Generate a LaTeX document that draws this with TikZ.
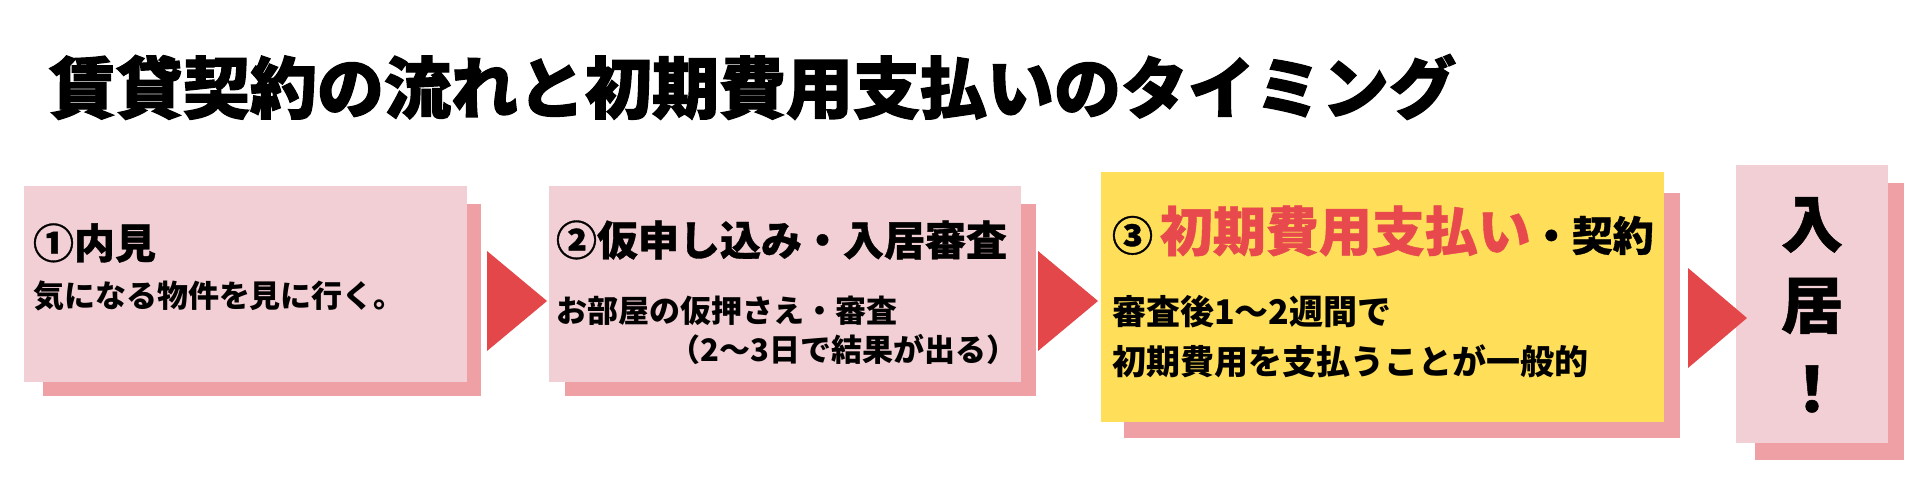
\documentclass[tikz,border=0pt]{standalone}
\usepackage{fontspec}
\newfontfamily\jp{Noto Sans CJK JP}
\newfontfamily\jphead[FakeBold=0.8]{Noto Sans CJK JP}
\newfontfamily\jptitle[FakeBold=1.8]{Noto Sans CJK JP}
\definecolor{boxpink}{RGB}{242,206,213}
\definecolor{shadowpink}{RGB}{239,160,164}
\definecolor{arrowred}{RGB}{227,71,74}
\definecolor{boxyellow}{RGB}{255,222,89}
\definecolor{textred}{RGB}{231,73,77}
\begin{document}
\begin{tikzpicture}[x=1pt,y=-1pt,
  panel/.style={draw=none, inner sep=0pt, outer sep=0pt, anchor=north west},
  txt/.style={inner sep=0pt, outer sep=0pt, anchor=west, font=\jp\bfseries},
  head/.style={txt, font=\jphead\bfseries\fontsize{41}{48}\selectfont},
  body/.style={txt, font=\jp\bfseries\fontsize{31}{36}\selectfont},
  bigbody/.style={txt, font=\jp\bfseries\fontsize{34}{40}\selectfont},
  big/.style={inner sep=0pt, outer sep=0pt, anchor=center, font=\jphead\bfseries\fontsize{62}{68}\selectfont},
  tri/.style={fill=arrowred}]
\fill[white] (0,0) rectangle (1920,492);
\useasboundingbox (0,0) rectangle (1920,492);

% title
\node[txt, font=\jptitle\bfseries\fontsize{67}{72}\selectfont] (title) at (49,87) {賃貸契約の流れと初期費用支払いのタイミング};

% box 1
\node[panel, fill=shadowpink, minimum width=438pt, minimum height=192pt] (s1) at (43,204) {};
\node[panel, fill=boxpink, minimum width=443pt, minimum height=196pt] (b1) at (24,186) {};
\node[head] (h1) at (33,243) {①内見};
\node[body] (t1) at (33,296) {気になる物件を見に行く。};

% arrow 1
\coordinate (a1l) at (487,251);
\coordinate (a1t) at (547,301);
\coordinate (a1b) at (487,351);
\fill[tri] (a1l) -- (a1t) -- (a1b) -- cycle;

% box 2
\node[panel, fill=shadowpink, minimum width=471pt, minimum height=192pt] (s2) at (565,204) {};
\node[panel, fill=boxpink, minimum width=472pt, minimum height=196pt] (b2) at (549,186) {};
\node[head] (h2) at (556,240) {②仮申し込み・入居審査};
\node[body] (t2a) at (556,311) {お部屋の仮押さえ・審査};
\node[body, anchor=east] (t2b) at (1017,350) {（2〜3日で結果が出る）};

% arrow 2
\coordinate (a2l) at (1038,251);
\coordinate (a2t) at (1098,301);
\coordinate (a2b) at (1038,351);
\fill[tri] (a2l) -- (a2t) -- (a2b) -- cycle;

% box 3
\node[panel, fill=shadowpink, minimum width=556pt, minimum height=245pt] (s3) at (1124,193) {};
\node[panel, fill=boxyellow, minimum width=563pt, minimum height=250pt] (b3) at (1101,172) {};
\node[txt, font=\jphead\bfseries] (h3) at (1112,231) {\fontsize{41}{48}\selectfont ③\,{\color{textred}\fontsize{53}{60}\selectfont 初期費用支払い}・契約};
\node[bigbody] (t3a) at (1112,312) {審査後1〜2週間で};
\node[bigbody] (t3b) at (1112,361) {初期費用を支払うことが一般的};

% box 4
\node[panel, fill=shadowpink, minimum width=149pt, minimum height=277pt] (s4) at (1755,183) {};
\node[panel, fill=boxpink, minimum width=152pt, minimum height=278pt] (b4) at (1736,165) {};
\node[big] (c1) at (1812,225) {入};
\node[big] (c2) at (1812,306) {居};
\node[big] (c3) at (1812,389) {！};

% arrow 3
\coordinate (a3l) at (1688,268);
\coordinate (a3t) at (1747,318);
\coordinate (a3b) at (1688,368);
\fill[tri] (a3l) -- (a3t) -- (a3b) -- cycle;
\end{tikzpicture}
\end{document}
